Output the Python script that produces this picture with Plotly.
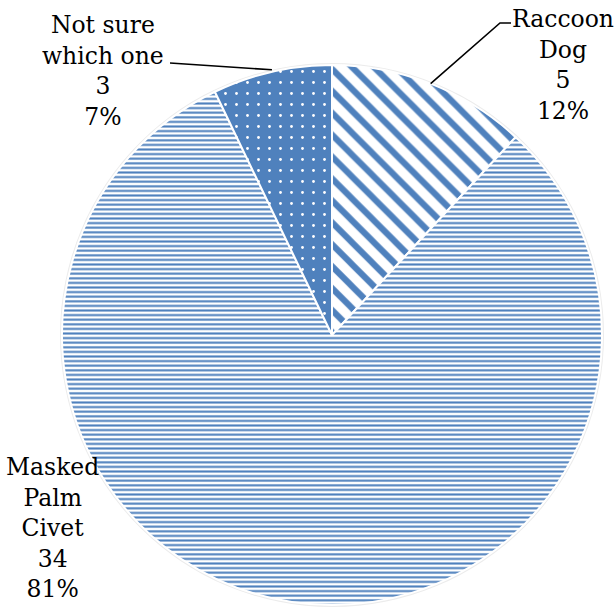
import math
import plotly.graph_objects as go

labels = ["Raccoon Dog", "Masked Palm Civet", "Not sure which one"]
label_text = ["Raccoon<br>Dog", "Masked<br>Palm<br>Civet", "Not sure<br>which one"]
values = [5, 34, 3]
pcts = ["12%", "81%", "7%"]

BLUE = "#4f81bd"
W = H = 614
cx, cy, r = 332, 335, 270

fig = go.Figure(go.Pie(
    labels=labels, values=values, sort=False, direction="clockwise", rotation=0,
    textinfo="none", hoverinfo="label+value+percent", showlegend=False,
    domain=dict(x=[(cx - r) / W, (cx + r) / W], y=[1 - (cy + r) / H, 1 - (cy - r) / H]),
    marker=dict(
        colors=["white", "white", BLUE],
        line=dict(color="white", width=2),
        pattern=dict(
            shape=["\\", "-", "."],
            fgcolor=[BLUE, BLUE, "white"],
            bgcolor=["white", "white", BLUE],
            size=[15.5, 4.6, 11],
            solidity=[0.4, 0.45, 0.05],
            fillmode="replace",
        ),
    ),
))

total = sum(values)
cum = 0
mids = []
for v in values:
    mids.append((cum + v / 2) / total * 2 * math.pi)
    cum += v

def px2paper(x, y):
    return x / W, 1 - y / H

def edge(i):
    a = mids[i]
    return cx + r * math.sin(a), cy - r * math.cos(a)

shapes = []
shapes.append(dict(type="circle", xref="paper", yref="paper", layer="below",
                   x0=(cx - r - 2) / W, x1=(cx + r + 2) / W,
                   y0=1 - (cy + r + 2) / H, y1=1 - (cy - r - 2) / H,
                   fillcolor="#ececec", line=dict(width=0)))

ex, ey = edge(0)
pts = [(ex, ey), (500, 23), (511, 23)]
path = "M " + " L ".join(f"{px2paper(x, y)[0]},{px2paper(x, y)[1]}" for x, y in pts)
shapes.append(dict(type="path", xref="paper", yref="paper", path=path,
                   line=dict(color="black", width=1.6)))
ex, ey = edge(2)
pts = [(ex, ey - 2), (170, 63)]
path = "M " + " L ".join(f"{px2paper(x, y)[0]},{px2paper(x, y)[1]}" for x, y in pts)
shapes.append(dict(type="path", xref="paper", yref="paper", path=path,
                   line=dict(color="black", width=1.6)))

label_pos = [(563, 65), (52, 528), (103, 71)]
annotations = []
for i in range(3):
    x, y = px2paper(*label_pos[i])
    annotations.append(dict(
        x=x, y=y, xref="paper", yref="paper", xanchor="center", yanchor="middle",
        text=f"{label_text[i]}<br>{values[i]}<br>{pcts[i]}", showarrow=False, align="center",
        font=dict(family="DejaVu Serif, Liberation Serif, serif", size=23.5, color="black"),
    ))

fig.update_layout(
    width=W, height=H, margin=dict(l=0, r=0, t=0, b=0),
    paper_bgcolor="white", plot_bgcolor="white",
    shapes=shapes, annotations=annotations,
)
fig.write_html("out.html")
